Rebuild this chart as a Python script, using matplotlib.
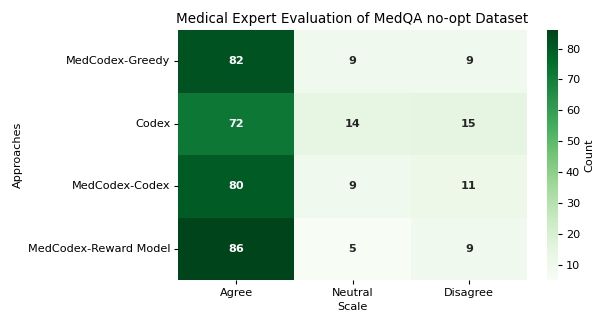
import matplotlib
matplotlib.use("Agg")
import matplotlib.pyplot as plt
import seaborn as sns
import numpy as np
import pandas as pd

approaches = ["MedCodex-Greedy", "Codex", "MedCodex-Codex", "MedCodex-Reward Model"]
scale = ["Agree", "Neutral", "Disagree"]
agree = [82, 72, 80, 86]
neutral = [9, 14, 9, 5]
disagree = [9, 15, 11, 9]

df = pd.DataFrame({"Agree": agree, "Neutral": neutral, "Disagree": disagree}, index=approaches)[scale]

s = 0.81
plt.rcParams.update({
    "font.size": 10 * s,
    "axes.titlesize": 12 * s,
    "axes.labelsize": 10 * s,
    "xtick.labelsize": 10 * s,
    "ytick.labelsize": 10 * s,
    "xtick.major.size": 3.5 * s,
    "ytick.major.size": 3.5 * s,
    "xtick.major.pad": 3.5 * s,
    "ytick.major.pad": 3.5 * s,
    "axes.titlepad": 6 * s,
    "axes.labelpad": 4 * s,
})

fig = plt.figure(figsize=(5.96, 3.14), dpi=100)
ax = fig.add_axes([178/596, 34/314, 349/596, 250/314])
cax = fig.add_axes([547/596, 34/314, 11/596, 250/314])
sns.heatmap(df, annot=True, fmt="d", cmap="Greens", ax=ax, cbar_ax=cax,
            annot_kws={"fontweight": "bold", "fontsize": 10 * s}, cbar_kws={"label": "Count"})
ax.set_title("Medical Expert Evaluation of MedQA no-opt Dataset")
ax.set_xlabel("Scale")
ax.set_ylabel("Approaches")
ax.tick_params(axis="y", rotation=0)
fig.savefig("out.png", dpi=100)
